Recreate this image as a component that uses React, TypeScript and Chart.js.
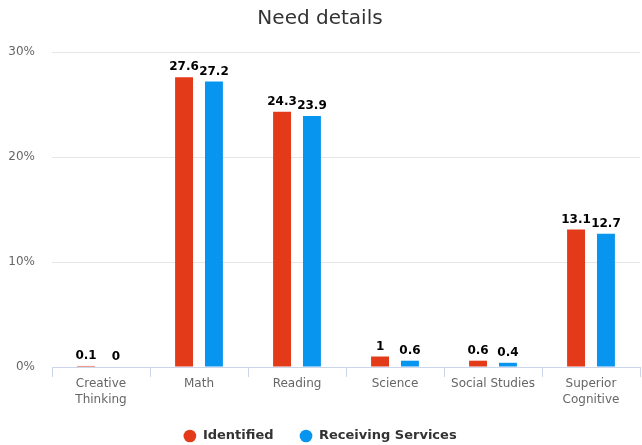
import React, { useEffect, useRef } from "react";
import { Chart, registerables } from "chart.js";

Chart.register(...registerables);

const title = "Need details";
const categories: (string | string[])[] = [
  ["Creative", "Thinking"],
  "Math",
  "Reading",
  "Science",
  "Social Studies",
  ["Superior", "Cognitive"],
];
const identified = [0.1, 27.6, 24.3, 1, 0.6, 13.1];
const receivingServices = [0, 27.2, 23.9, 0.6, 0.4, 12.7];
const seriesNames = ["Identified", "Receiving Services"];
const yMax = 30;
const yStep = 10;

const FONT = "'DejaVu Sans', 'Noto Sans', sans-serif";

const valueLabels = {
  id: "valueLabels",
  afterDatasetsDraw(chart: any) {
    const ctx = chart.ctx;
    ctx.save();
    ctx.font = `bold 12px ${FONT}`;
    ctx.fillStyle = "#000";
    ctx.textAlign = "center";
    ctx.textBaseline = "bottom";
    chart.data.datasets.forEach((ds: any, di: number) => {
      const meta = chart.getDatasetMeta(di);
      meta.data.forEach((bar: any, i: number) => {
        ctx.fillText(String(ds.data[i]), bar.x, bar.y - 4);
      });
    });
    ctx.restore();
  },
};

// Moves the legend down a little and lets the x-axis labels use the room
// above it (labels are clipped to the scale box otherwise).
const layoutTweak = {
  id: "layoutTweak",
  afterLayout(chart: any) {
    const lg = chart.legend;
    if (lg) {
      lg.top += 7.5;
      lg.bottom += 7.5;
    }
    const x = chart.scales.x;
    if (x) {
      x.bottom = x.top + 48;
      x.height = 48;
    }
  },
};

export default function App() {
  const ref = useRef<HTMLCanvasElement | null>(null);
  useEffect(() => {
    document.body.style.margin = "0";
    const chart = new Chart(ref.current!, {
      type: "bar",
      data: {
        labels: categories,
        datasets: [
          {
            label: seriesNames[0],
            data: identified,
            backgroundColor: "#e33a1a",
            categoryPercentage: 0.61,
            barPercentage: 0.6,
          },
          {
            label: seriesNames[1],
            data: receivingServices,
            backgroundColor: "#0895ef",
            categoryPercentage: 0.61,
            barPercentage: 0.6,
          },
        ],
      },
      options: {
        responsive: false,
        animation: false,
        devicePixelRatio: 1,
        layout: { padding: { left: 0, right: 2, top: 0, bottom: 0 } },
        plugins: {
          title: {
            display: true,
            text: title,
            color: "#333",
            font: { family: FONT, size: 20, weight: "normal" },
            padding: { top: 7, bottom: 21 },
          },
          legend: {
            position: "bottom",
            labels: {
              usePointStyle: true,
              pointStyle: "circle",
              boxWidth: 17,
              boxHeight: 9,
              padding: 26,
              color: "#333",
              font: { family: FONT, size: 13, weight: "bold" },
            },
          },
          tooltip: { enabled: false },
        },
        scales: {
          x: {
            grid: {
              display: true,
              drawOnChartArea: false,
              drawTicks: true,
              tickLength: 10,
              color: "#ccd6eb",
              offset: true,
            },
            border: { display: true, color: "#ccd6eb" },
            ticks: {
              color: "#666",
              padding: -1,
              maxRotation: 0,
              autoSkip: false,
              font: { family: FONT, size: 12, lineHeight: 1.35 },
            },
            afterFit(scale: any) {
              scale.height = 29;
            },
          },
          y: {
            min: 0,
            max: yMax,
            grid: { color: "#e6e6e6", drawTicks: false },
            border: { display: false },
            ticks: {
              stepSize: yStep,
              color: "#666",
              padding: 17,
              font: { family: FONT, size: 12 },
              callback: (v: any) => v + "%",
            },
            afterFit(scale: any) {
              scale.width = 52;
            },
          },
        },
      },
      plugins: [valueLabels, layoutTweak],
    });
    return () => chart.destroy();
  }, []);
  return (
    <div style={{ width: 642, height: 445 }}>
      <canvas ref={ref} width={642} height={445} />
    </div>
  );
}
